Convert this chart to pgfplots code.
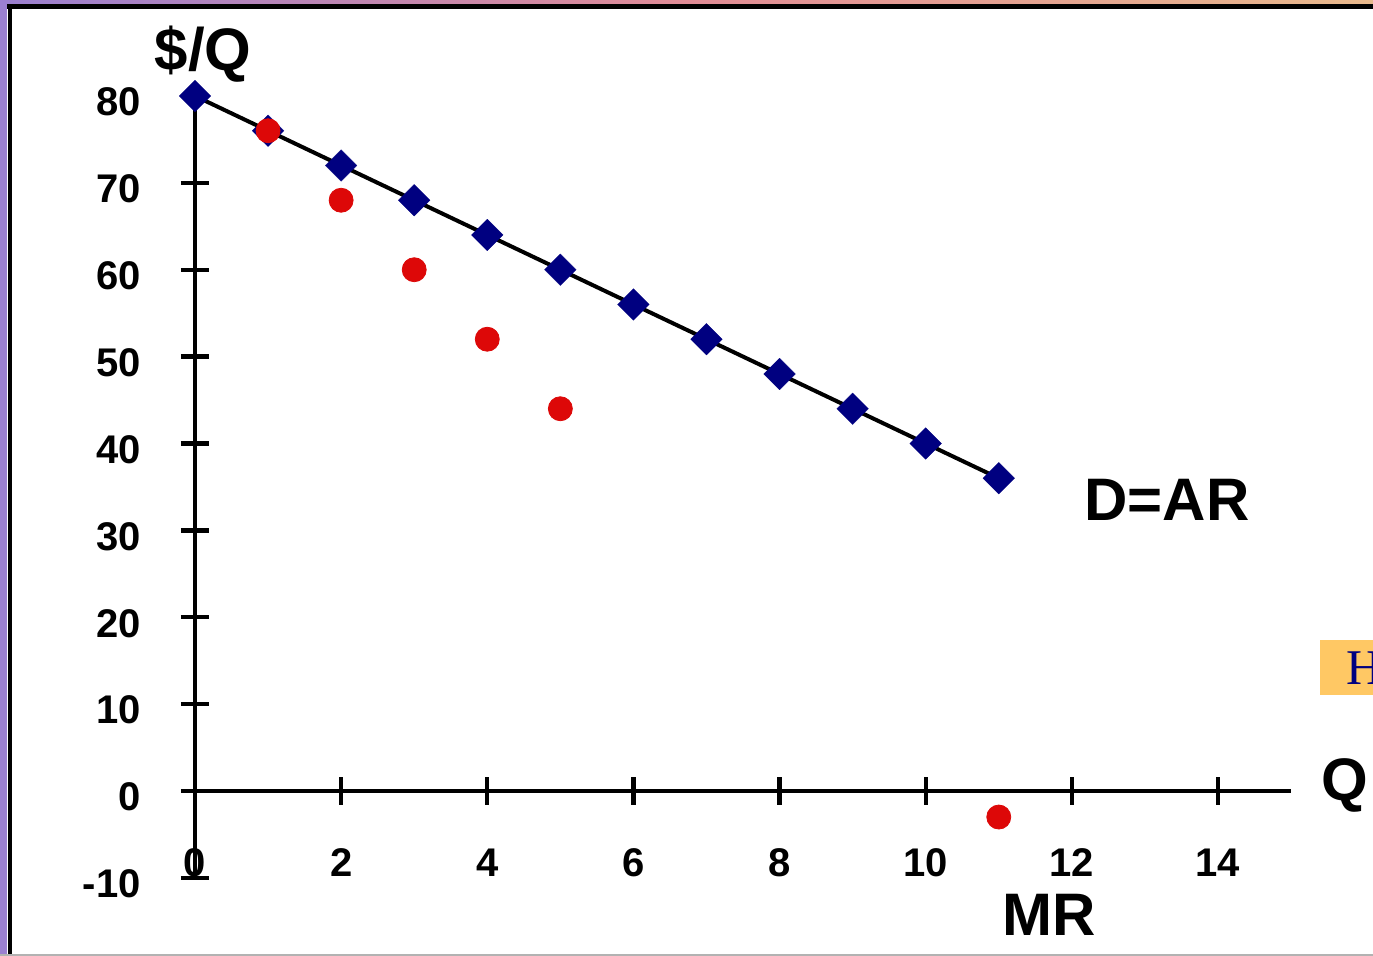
\documentclass[border=0pt]{standalone}
\usepackage{pgfplots}
\pgfplotsset{compat=1.18}
\usepackage{fontspec}
\setmainfont{Liberation Sans}
\newfontfamily\seriffont{Liberation Serif}
\definecolor{navyd}{RGB}{0,0,128}
\definecolor{redd}{RGB}{221,8,8}
\definecolor{boxy}{RGB}{255,200,100}
\definecolor{lpurple}{RGB}{155,128,208}
\definecolor{lpink}{RGB}{225,140,150}
\definecolor{lorange}{RGB}{232,185,140}
\begin{document}
\begin{tikzpicture}
\path[use as bounding box] (0,0) rectangle (686.5pt,478pt);
\fill[white] (0,0) rectangle (686.5pt,478pt);
% slide frame
\shade[left color=lpurple, right color=lorange, middle color=lpink] (0,476pt) rectangle (686.5pt,478pt);
\fill[black] (0,473.5pt) rectangle (686.5pt,476pt);
\fill[lpurple] (0,0) rectangle (3.5pt,478pt);
\fill[black] (4pt,0) rectangle (6pt,476pt);
\draw[gray!60, line width=1pt] (0,0.5pt) -- (686.5pt,0.5pt);
\begin{axis}[
  x=36.535pt, y=4.34375pt,
  anchor=origin, at={(97.5pt,82.5pt)},
  xmin=-0.16, xmax=15, ymin=-10, ymax=80,
  axis lines=middle,
  axis line style={-, line width=2.2pt, black},
  clip=false,
  xtick={0,2,...,14},
  ytick={-10,0,...,80},
  hide obscured x ticks=false,
  hide obscured y ticks=false,
  tick align=center,
  major tick length=14pt,
  tick style={black, line width=2.2pt},
  /pgf/number format/assume math mode=true,
  xticklabel style={font=\bfseries\fontsize{20}{20}\selectfont, anchor=center, inner sep=0pt, yshift=-29pt},
  yticklabel style={font=\bfseries\fontsize{20}{20}\selectfont, anchor=east, inner sep=0pt, xshift=-20pt, yshift=-3pt},
]
\addplot[black, line width=2pt, mark=square*, mark size=5.6pt,
  mark options={draw=navyd, fill=navyd, rotate=45, solid, line width=0.1pt}]
  coordinates {(0,80) (1,76) (2,72) (3,68) (4,64) (5,60) (6,56) (7,52) (8,48) (9,44) (10,40) (11,36)};
\addplot[only marks, mark=*, mark size=6pt, mark options={draw=redd, fill=redd}]
  coordinates {(1,76) (2,68) (3,60) (4,52) (5,44) (11,-3)};
\end{axis}
\node[font=\bfseries\fontsize{30}{30}\selectfont] at (101.5pt,451pt) {\$/Q};
\node[font=\bfseries\fontsize{30}{30}\selectfont] at (672.5pt,85.5pt) {Q};
\node[font=\bfseries\fontsize{30}{30}\selectfont] at (583.5pt,228pt) {D=AR};
\node[font=\bfseries\fontsize{30}{30}\selectfont] at (524.5pt,20.5pt) {MR};
\fill[boxy] (660pt,130.5pt) rectangle (690pt,158pt);
\node[anchor=west, inner sep=0pt, text=navyd] at (673pt,144pt) {\seriffont\fontsize{25}{25}\selectfont H};
\end{tikzpicture}
\end{document}
